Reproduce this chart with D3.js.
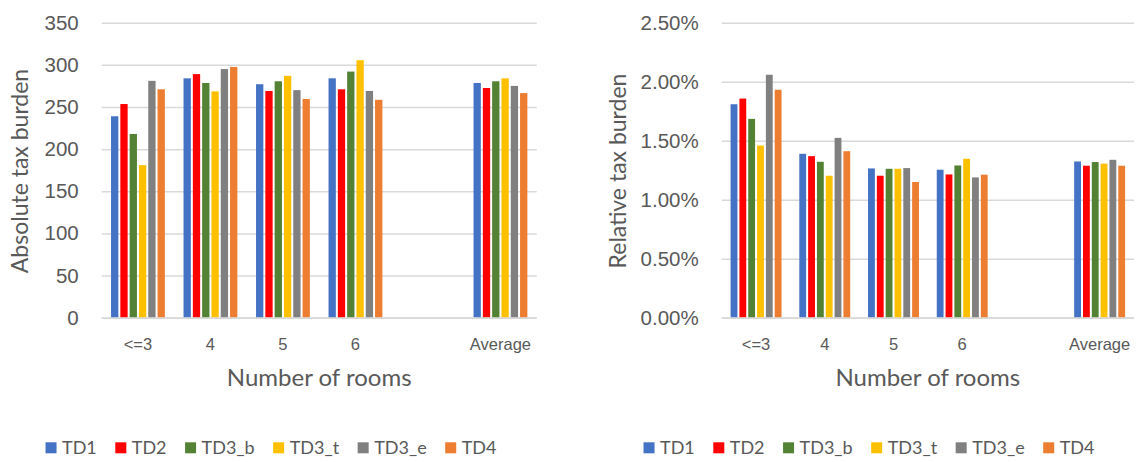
<!DOCTYPE html>
<html>
<head>
<meta charset="utf-8">
<script src="https://cdn.jsdelivr.net/npm/d3@7/dist/d3.min.js"></script>
<style>
  body { margin: 0; background: #fff; }
  svg { display: block; font-family: Lato, "Open Sans", sans-serif; }
  .axis text { fill: #595959; }
</style>
</head>
<body>
<div id="chart"></div>
<script>
// categories & series
var categories = ["<=3", "4", "5", "6", "", "Average"]
var series = ["TD1", "TD2", "TD3_b", "TD3_t", "TD3_e", "TD4"]
var colors = ["#4472C4", "#FF0000", "#548235", "#FFC000", "#808080", "#ED7D31"]

// absolute tax burden, one array per series (blank slot = null)
var absTD1  = [239, 284, 277, 284, null, 278.5]
var absTD2  = [253.5, 289, 269, 271, null, 272.5]
var absTD3b = [218, 278.5, 280.5, 292, null, 280.5]
var absTD3t = [181, 268.5, 287, 305.5, null, 284]
var absTD3e = [281, 295, 270, 269, null, 275]
var absTD4  = [271, 297.5, 259.5, 258.5, null, 266.5]

// relative tax burden (fractions)
var relTD1  = [0.01809, 0.01389, 0.01265, 0.01254, null, 0.01324]
var relTD2  = [0.01857, 0.01369, 0.01203, 0.01214, null, 0.01288]
var relTD3b = [0.01685, 0.01321, 0.01262, 0.01290, null, 0.01319]
var relTD3t = [0.01459, 0.01203, 0.01262, 0.01347, null, 0.01306]
var relTD3e = [0.02059, 0.01524, 0.01268, 0.01189, null, 0.01338]
var relTD4  = [0.01932, 0.01411, 0.01150, 0.01212, null, 0.01288]

var absTicks = [0, 50, 100, 150, 200, 250, 300, 350]
var relTicks = [0, 0.005, 0.01, 0.015, 0.02, 0.025]

var svg = d3.select("#chart").append("svg")
  .attr("width", 1136)
  .attr("height", 462)

function drawPanel(opts) {
  var g = svg.append("g")

  var x = d3.scaleBand()
    .domain(categories)
    .range([opts.left, opts.right])

  var groupW = x.bandwidth() * 0.77
  var xSub = d3.scaleBand()
    .domain(series)
    .range([(x.bandwidth() - groupW) / 2, (x.bandwidth() + groupW) / 2])

  var y = d3.scaleLinear()
    .domain(opts.domain)
    .range([317.7, 22.7])

  // gridlines + tick labels
  var yAxis = d3.axisLeft(y)
    .tickValues(opts.ticks)
    .tickFormat(opts.format)
    .tickSize(-(opts.right - opts.left))
    .tickPadding(23)

  var ya = g.append("g")
    .attr("class", "axis y-axis")
    .attr("transform", "translate(" + opts.left + ",0)")
    .call(yAxis)
  ya.select(".domain").remove()
  ya.selectAll("line").attr("stroke", "#d9d9d9").attr("stroke-width", 1.5)
  ya.selectAll("text").style("font-size", "20.5px")

  // bars
  var rows = []
  opts.values.forEach(function(vals, si) {
    vals.forEach(function(v, ci) {
      if (v != null) rows.push({ s: series[si], c: categories[ci], v: v, color: colors[si] })
    })
  })

  g.selectAll("rect.bar")
    .data(rows)
    .enter().append("rect")
    .attr("class", "bar")
    .attr("x", function(d) { return x(d.c) + xSub(d.s) + 1 })
    .attr("width", xSub.bandwidth() - 2)
    .attr("y", function(d) { return y(d.v) })
    .attr("height", function(d) { return y(0) - y(d.v) })
    .attr("fill", function(d) { return d.color })

  // x axis labels
  var xAxis = d3.axisBottom(x).tickSize(0).tickPadding(20)
  var xa = g.append("g")
    .attr("class", "axis x-axis")
    .attr("transform", "translate(0,318)")
    .call(xAxis)
  xa.select(".domain").remove()
  xa.selectAll("text").style("font-size", "16.5px")

  // baseline
  g.append("line")
    .attr("x1", opts.left).attr("x2", opts.right)
    .attr("y1", 318).attr("y2", 318)
    .attr("stroke", "#d9d9d9").attr("stroke-width", 1.5)

  // titles
  g.append("text")
    .attr("x", (opts.left + opts.right) / 2)
    .attr("y", 386)
    .attr("text-anchor", "middle")
    .attr("fill", "#595959")
    .style("font-size", "24px")
    .text("Number of rooms")

  g.append("text")
    .attr("transform", "translate(" + opts.titleX + ",171) rotate(-90)")
    .attr("text-anchor", "middle")
    .attr("fill", "#595959")
    .style("font-size", "23px")
    .text(opts.yTitle)

  // legend, centred under the chart area
  var leg = g.append("g")
  var lx = 0
  series.forEach(function(s, i) {
    leg.append("rect")
      .attr("x", lx).attr("y", 442.3)
      .attr("width", 11).attr("height", 11)
      .attr("fill", colors[i])
    var t = leg.append("text")
      .attr("x", lx + 16.5).attr("y", 453.5)
      .attr("fill", "#595959")
      .style("font-size", "18px")
      .text(s)
    lx += 16.5 + t.node().getComputedTextLength() + (i < series.length - 1 ? 18.5 : 0)
  })
  leg.attr("transform", "translate(" + (opts.legendCenter - lx / 2) + ",0)")
}

drawPanel({
  left: 101.7, right: 536.7,
  domain: [0, 350], ticks: absTicks,
  format: d3.format("d"),
  values: [absTD1, absTD2, absTD3b, absTD3t, absTD3e, absTD4],
  yTitle: "Absolute tax burden", titleX: 28,
  legendCenter: 271
})

drawPanel({
  left: 721.7, right: 1134,
  domain: [0, 0.025], ticks: relTicks,
  format: d3.format(".2%"),
  values: [relTD1, relTD2, relTD3b, relTD3t, relTD3e, relTD4],
  yTitle: "Relative tax burden", titleX: 626,
  legendCenter: 869
})
</script>
</body>
</html>
